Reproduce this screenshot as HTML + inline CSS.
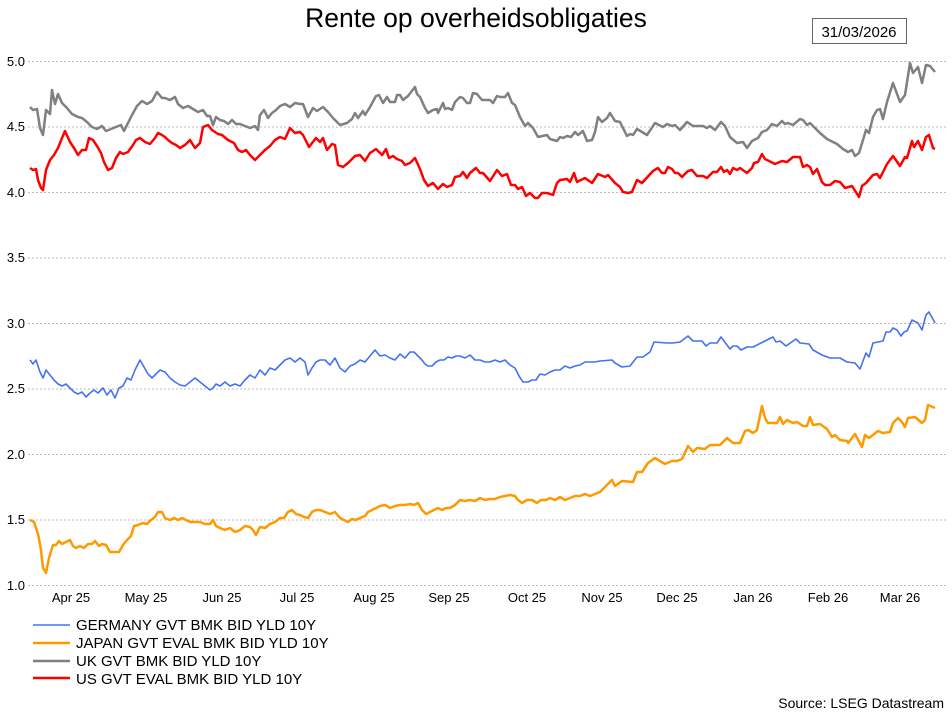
<!DOCTYPE html>
<html><head><meta charset="utf-8"><style>
body{margin:0;background:#fff;width:952px;height:712px;overflow:hidden;font-family:"Liberation Sans",Arial,sans-serif;}
</style></head><body>
<svg width="952" height="712" xmlns="http://www.w3.org/2000/svg" font-family="Liberation Sans, Arial, sans-serif">
<text x="476" y="27" font-size="26.5" text-anchor="middle" fill="#000">Rente op overheidsobligaties</text>
<rect x="812.5" y="18.5" width="94" height="25" fill="#fff" stroke="#666"/>
<text x="859" y="37" font-size="15" text-anchor="middle" fill="#000">31/03/2026</text>
<g stroke="#bbb" stroke-dasharray="2,2" stroke-width="1">
<line x1="28" x2="946" y1="61.5" y2="61.5"/><line x1="28" x2="946" y1="127" y2="127"/>
<line x1="28" x2="946" y1="192.5" y2="192.5"/><line x1="28" x2="946" y1="258" y2="258"/>
<line x1="28" x2="946" y1="323.5" y2="323.5"/><line x1="28" x2="946" y1="389" y2="389"/>
<line x1="28" x2="946" y1="454.5" y2="454.5"/><line x1="28" x2="946" y1="520" y2="520"/>
<line x1="28" x2="946" y1="585.5" y2="585.5"/>
</g>
<g font-size="13" fill="#000" text-anchor="end">
<text x="25" y="66">5.0</text><text x="25" y="131">4.5</text><text x="25" y="197">4.0</text>
<text x="25" y="262">3.5</text><text x="25" y="328">3.0</text><text x="25" y="393">2.5</text>
<text x="25" y="459">2.0</text><text x="25" y="524">1.5</text><text x="25" y="590">1.0</text>
</g>
<g font-size="13" fill="#000" text-anchor="middle">
<text x="71" y="602">Apr 25</text><text x="146" y="602">May 25</text><text x="222" y="602">Jun 25</text>
<text x="297" y="602">Jul 25</text><text x="374" y="602">Aug 25</text><text x="449" y="602">Sep 25</text>
<text x="527" y="602">Oct 25</text><text x="602" y="602">Nov 25</text><text x="677" y="602">Dec 25</text>
<text x="753" y="602">Jan 26</text><text x="828" y="602">Feb 26</text><text x="900" y="602">Mar 26</text>
</g>
<g fill="none" stroke-linejoin="round">
<polyline stroke="#808080" stroke-width="2.5" points="30,107 33,110 37,109 40,128 43,135 46,110 50,114 52,90 55,104 58,94 62,103 67,108 72,114 78,117 82,118 87,122 92,127 97,129 102,126 106,131 111,129 116,127 121,125 124,131 128,123 132,115 137,106 142,101 147,104 152,101 157,92 162,98 165,98 170,100 175,97 178,104 183,108 188,106 193,109 198,112 203,110 207,116 210,116 213,125 216,117 220,120 224,121 228,124 232,120 236,124 240,124 245,126 250,128 255,126 258,130 260,115 264,110 268,118 272,113 276,110 280,106 285,104 290,107 295,103 300,104 303,104 308,117 313,108 317,111 323,107 328,112 333,118 340,125 347,123 352,119 355,113 358,118 363,111 365,115 370,107 376,96 379,95 383,103 387,97 390,102 395,102 397,95 400,95 403,100 408,96 415,87 417,94 420,97 425,108 428,113 433,110 437,109 438,113 443,103 445,109 448,108 452,110 455,102 460,97 463,98 467,103 470,103 473,93 477,94 482,100 490,100 493,103 497,96 500,97 505,97 508,93 512,103 515,105 520,117 525,126 528,123 533,128 538,137 547,135 550,139 557,141 560,137 563,138 567,136 571,137 575,132 578,135 583,131 587,141 592,140 595,132 598,117 602,122 607,118 610,113 615,121 620,122 627,136 630,134 633,135 637,129 647,135 655,123 663,127 667,124 672,126 675,125 680,130 687,122 693,126 703,126 707,128 710,126 715,130 721,122 725,126 730,137 737,143 743,142 747,148 752,141 758,138 762,132 767,130 772,124 777,126 782,121 785,124 788,123 793,125 800,119 803,120 807,125 810,123 820,133 827,139 837,144 843,149 848,152 852,150 855,156 859,153 863,140 866,130 869,133 873,117 877,110 880,109 883,119 887,102 893,83 900,102 905,95 910,63 913,73 918,67 922,83 926,65 930,66 935,72"/>
<polyline stroke="#ff0000" stroke-width="2.5" points="30,168 33,170 36,169 38,180 41,188 43,190 46,170 50,160 54,155 58,148 62,138 65,131 70,142 74,148 78,155 82,150 86,150 89,138 93,140 97,146 101,153 104,162 108,170 112,168 116,158 120,152 123,154 128,152 133,145 136,140 140,138 145,142 150,144 155,138 158,133 162,135 165,137 168,140 172,143 176,145 180,148 185,145 190,140 195,148 200,143 203,127 208,125 212,130 218,134 222,135 228,140 234,143 238,150 242,152 246,150 250,155 255,160 260,155 265,150 270,146 275,140 280,137 285,139 290,128 295,133 300,132 303,135 309,147 316,138 320,142 323,138 327,150 332,144 335,145 338,165 343,167 348,163 355,156 360,155 365,161 370,153 376,149 382,155 386,149 389,158 393,156 397,159 402,161 405,165 410,163 415,158 420,169 424,180 428,186 433,183 438,189 443,184 447,187 452,185 455,177 460,176 463,172 467,178 470,173 476,168 480,173 483,173 490,181 497,170 502,176 507,174 511,185 515,185 518,189 522,187 526,196 530,193 535,198 538,198 542,193 547,193 553,195 557,183 560,180 567,179 570,182 574,173 577,182 585,178 592,183 598,174 605,177 608,175 615,183 620,187 623,192 628,193 632,192 637,180 642,183 653,171 658,168 662,173 665,173 668,167 672,169 675,173 678,173 682,177 688,171 692,170 697,176 703,176 707,178 713,172 717,172 721,167 724,172 727,170 730,174 733,168 737,170 740,168 747,173 752,168 754,163 758,162 762,154 765,159 775,164 782,161 787,162 793,157 800,157 803,167 807,165 810,167 813,174 817,169 822,182 825,185 830,185 835,181 840,182 845,188 852,186 859,197 862,186 866,183 873,175 877,174 880,178 887,164 893,156 900,166 905,157 907,158 912,141 914,147 918,141 922,150 926,137 929,135 933,148 935,149"/>
<polyline stroke="#4472f4" stroke-width="1.6" points="30,360 33,364 36,360 40,372 43,378 46,370 50,375 54,380 58,384 62,386 66,384 70,388 74,392 78,394 82,392 86,397 90,393 94,390 98,393 103,388 107,395 111,390 115,398 119,388 123,386 127,378 131,380 135,370 140,360 144,367 148,374 152,378 156,374 160,370 165,372 170,378 175,382 180,385 185,386 190,382 195,378 200,382 205,386 210,390 213,388 216,384 220,386 225,382 230,386 235,384 240,386 245,380 250,375 255,378 260,370 265,375 270,368 275,370 280,365 285,360 290,358 295,362 300,358 305,362 308,375 312,368 316,362 320,360 325,360 330,365 335,358 340,368 345,372 350,366 355,364 360,360 365,362 370,356 375,350 380,356 385,355 390,358 395,360 400,354 405,358 410,352 414,352 418,356 422,360 425,364 428,366 432,366 436,362 440,360 444,360 448,357 452,358 456,356 460,356 465,358 470,355 475,360 480,360 485,362 490,362 495,360 500,362 505,360 510,365 515,368 519,376 523,382 528,382 532,380 536,380 540,374 545,375 550,372 555,370 560,370 565,366 570,368 575,366 580,365 585,362 590,362 595,362 600,361 612,360 615,363 622,367 630,366 637,357 643,357 650,352 654,342 667,343 673,343 680,342 688,336 693,341 702,341 706,346 710,343 717,343 721,337 730,349 733,346 737,346 741,350 747,347 753,347 763,342 773,337 776,342 780,341 786,346 796,339 800,343 809,344 813,350 822,355 830,358 840,358 847,362 855,363 860,369 866,353 869,357 873,343 883,341 886,332 890,332 893,328 897,330 901,336 904,332 907,331 912,320 918,323 922,330 926,315 929,312 935,323"/>
<polyline stroke="#ff9900" stroke-width="2.5" points="30,520 34,522 38,534 41,550 43,568 46,573 49,558 53,545 56,545 59,541 62,544 66,542 70,540 73,546 76,548 80,546 84,548 88,544 92,544 95,541 99,546 102,544 106,545 110,552 115,552 119,552 123,545 127,540 131,536 134,526 138,525 143,523 147,524 151,520 155,517 158,512 162,512 165,518 170,520 174,518 178,520 182,518 186,520 190,522 195,522 200,522 205,524 210,524 213,520 216,526 220,528 225,530 230,528 235,532 240,530 245,526 250,527 253,530 256,535 260,527 265,528 270,524 275,522 280,518 284,518 288,512 292,510 296,514 300,515 304,517 308,518 312,512 316,510 320,510 325,512 330,514 335,512 340,518 344,520 348,522 352,519 356,520 360,518 365,516 368,512 372,510 376,508 380,506 385,505 390,508 395,506 400,505 405,505 410,504 414,505 418,503 422,510 426,514 430,512 434,510 438,508 442,510 446,508 450,508 455,505 460,500 465,501 470,500 475,501 480,498 485,500 490,499 495,499 500,497 505,496 510,495 515,496 518,500 522,503 527,500 532,500 537,503 541,500 546,500 550,498 555,500 560,497 565,500 570,498 575,496 580,496 585,494 590,496 595,494 600,492 612,480 615,486 622,481 633,482 637,472 642,472 648,463 655,458 665,464 672,461 677,461 682,459 688,446 693,452 697,448 705,449 710,445 720,445 727,438 733,443 740,443 745,431 748,430 753,433 757,430 762,406 765,418 768,423 773,423 777,423 780,417 783,424 787,420 793,423 797,422 803,426 807,426 810,417 813,425 820,424 827,429 832,437 835,435 840,440 847,441 848,443 855,434 862,447 865,435 869,438 878,431 883,433 890,432 893,423 898,418 902,422 905,427 908,418 915,417 922,423 925,420 928,405 935,408"/>
</g>
<g font-size="15" fill="#000">
<line x1="33" x2="70" y1="625" y2="625" stroke="#4472f4" stroke-width="1.6"/>
<text x="76" y="630">GERMANY GVT BMK BID YLD 10Y</text>
<line x1="33" x2="70" y1="643" y2="643" stroke="#ff9900" stroke-width="2.5"/>
<text x="76" y="648">JAPAN GVT EVAL BMK BID YLD 10Y</text>
<line x1="33" x2="70" y1="661" y2="661" stroke="#808080" stroke-width="2.5"/>
<text x="76" y="666">UK GVT BMK BID YLD 10Y</text>
<line x1="33" x2="70" y1="678" y2="678" stroke="#ff0000" stroke-width="2.5"/>
<text x="76" y="684">US GVT EVAL BMK BID YLD 10Y</text>
<text x="944" y="708" font-size="14" text-anchor="end">Source: LSEG Datastream</text>
</g>
</svg>
</body></html>
